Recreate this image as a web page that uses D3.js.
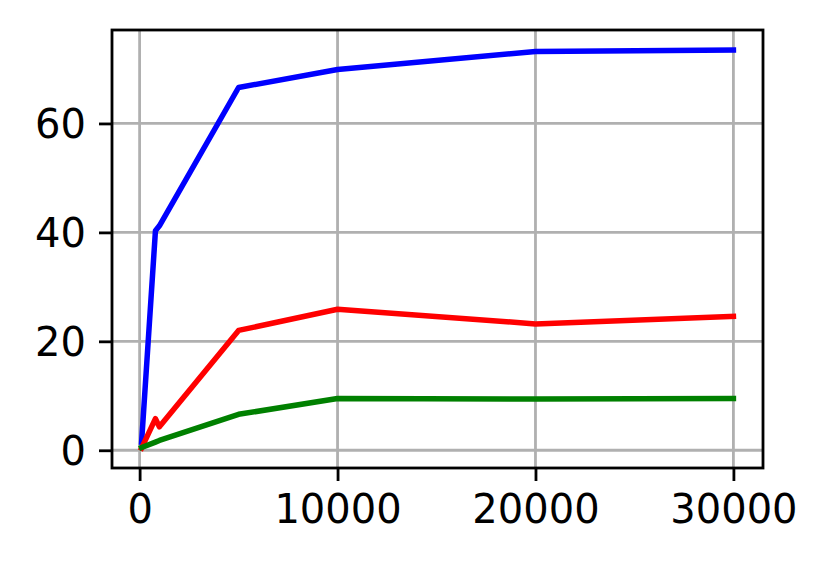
<!DOCTYPE html>
<html>
<head>
<meta charset="utf-8">
<script src="https://cdn.jsdelivr.net/npm/d3@7"></script>
<style>
  html, body { margin: 0; padding: 0; background: #fff; }
  svg { display: block; }
  text { font-family: "DejaVu Sans", sans-serif; }
</style>
</head>
<body>
<svg id="chart" width="830" height="569"></svg>
<script>
const xValues = [100, 800, 1000, 5000, 10000, 20000, 30000];
const blueValues = [1.5, 40.3, 41.2, 66.6, 69.9, 73.2, 73.5];
const redValues = [0.4, 5.8, 4.3, 22.0, 25.9, 23.2, 24.6];
const greenValues = [0.5, 1.5, 1.8, 6.6, 9.5, 9.4, 9.5];
const xTicks = [0, 10000, 20000, 30000];
const yTicks = [0, 20, 40, 60];

const series = [
  { name: "blue", values: blueValues, color: "#0000ff" },
  { name: "red", values: redValues, color: "#ff0000" },
  { name: "green", values: greenValues, color: "#008000" }
];

const plotLeft = 112, plotRight = 763, plotTop = 30, plotBottom = 468;

const svg = d3.select("#chart");

const xExt = d3.extent(xValues);
const xPad = (xExt[1] - xExt[0]) * 0.05;
const allY = series.flatMap(s => s.values);
const yExt = d3.extent(allY);
const yPad = (yExt[1] - yExt[0]) * 0.05;

const x = d3.scaleLinear().domain([xExt[0] - xPad, xExt[1] + xPad]).range([plotLeft, plotRight]);
const y = d3.scaleLinear().domain([yExt[0] - yPad, yExt[1] + yPad]).range([plotBottom, plotTop]);

// grid
const grid = svg.append("g");
grid.selectAll("line.vx").data(xTicks).join("line")
  .attr("class", "vx")
  .attr("x1", d => x(d)).attr("x2", d => x(d))
  .attr("y1", plotTop).attr("y2", plotBottom)
  .attr("stroke", "#b0b0b0").attr("stroke-width", 2.8);
grid.selectAll("line.hy").data(yTicks).join("line")
  .attr("class", "hy")
  .attr("y1", d => y(d)).attr("y2", d => y(d))
  .attr("x1", plotLeft).attr("x2", plotRight)
  .attr("stroke", "#b0b0b0").attr("stroke-width", 2.8);

// lines
const line = d3.line().x((d, i) => x(xValues[i])).y(d => y(d));
svg.append("g").selectAll("path").data(series).join("path")
  .attr("d", d => line(d.values))
  .attr("fill", "none")
  .attr("stroke", d => d.color)
  .attr("stroke-width", 5.5)
  .attr("stroke-linejoin", "round")
  .attr("stroke-linecap", "square");

// axes
const xAxis = d3.axisBottom(x).tickValues(xTicks).tickFormat(d3.format("d"))
  .tickSize(13).tickPadding(12);
const yAxis = d3.axisLeft(y).tickValues(yTicks).tickFormat(d3.format("d"))
  .tickSize(13).tickPadding(13);

const gx = svg.append("g").attr("transform", `translate(0,${plotBottom})`).call(xAxis);
const gy = svg.append("g").attr("transform", `translate(${plotLeft},0)`).call(yAxis);
[gx, gy].forEach(g => {
  g.select(".domain").remove();
  g.selectAll(".tick line").attr("stroke", "#000").attr("stroke-width", 2.8);
  g.selectAll(".tick text").attr("fill", "#000").attr("font-size", 40)
    .attr("font-family", "DejaVu Sans, sans-serif");
});
gy.selectAll(".tick text").attr("dy", "0.36em");
gx.selectAll(".tick text").attr("dy", "0.76em");

// frame
svg.append("rect")
  .attr("x", plotLeft).attr("y", plotTop)
  .attr("width", plotRight - plotLeft).attr("height", plotBottom - plotTop)
  .attr("fill", "none").attr("stroke", "#000").attr("stroke-width", 2.8);
</script>
</body>
</html>
